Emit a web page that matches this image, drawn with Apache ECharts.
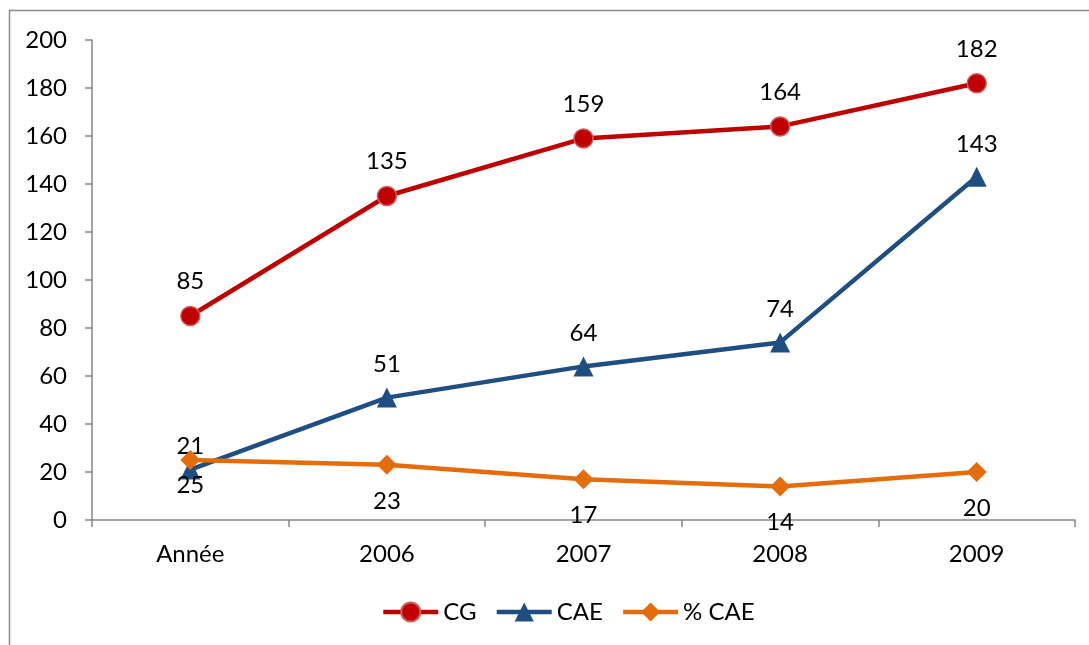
<!DOCTYPE html>
<html>
<head>
<meta charset="utf-8">
<script src="https://cdn.jsdelivr.net/npm/echarts@6/dist/echarts.min.js"></script>
<style>
html,body{margin:0;padding:0;background:#fff;}
#chart{width:1089px;height:645px;}
</style>
</head>
<body>
<div id="chart"></div>
<script>
const categories = ['Année', '2006', '2007', '2008', '2009'];
const cgValues = [85, 135, 159, 164, 182];
const caeValues = [21, 51, 64, 74, 143];
const pctCaeValues = [25, 23, 17, 14, 20];
const yTicks = [0, 20, 40, 60, 80, 100, 120, 140, 160, 180, 200];

const FONT = 'Lato, "Open Sans", sans-serif';
const FS = 24;

const chart = echarts.init(document.getElementById('chart'));

function withLabelOffsets(values, offsets) {
  return values.map((v, i) => offsets && offsets[i] != null
    ? { value: v, label: { distance: offsets[i] } }
    : v);
}

chart.setOption({
  animation: false,
  backgroundColor: '#ffffff',
  textStyle: { fontFamily: FONT },
  graphic: [{
    type: 'rect',
    shape: { x: 9.5, y: 10.5, width: 1200, height: 800 },
    style: { fill: 'none', stroke: '#8c8c8c', lineWidth: 1.5 },
    silent: true
  }],
  grid: { left: 92, right: 14, top: 40, bottom: 125, containLabel: false },
  legend: {
    bottom: 16,
    left: 376,
    itemWidth: 55,
    itemHeight: 24,
    itemGap: 18,
    lineStyle: { width: 4.5 },
    textStyle: { fontFamily: FONT, fontSize: FS, color: '#000' },
    data: ['CG', 'CAE', '% CAE']
  },
  xAxis: {
    type: 'category',
    data: categories,
    boundaryGap: true,
    axisLine: { lineStyle: { color: '#868686', width: 1.5 } },
    axisTick: { show: true, length: 7, lineStyle: { color: '#868686', width: 1.5 } },
    axisLabel: { fontFamily: FONT, fontSize: FS, color: '#000', margin: 22 },
    splitLine: { show: false }
  },
  yAxis: {
    type: 'value',
    min: yTicks[0],
    max: yTicks[yTicks.length - 1],
    interval: yTicks[1] - yTicks[0],
    axisLine: { show: true, lineStyle: { color: '#868686', width: 1.5 } },
    axisTick: { show: true, length: 7, lineStyle: { color: '#868686', width: 1.5 } },
    axisLabel: { fontFamily: FONT, fontSize: FS, color: '#000', margin: 25 },
    splitLine: { show: false }
  },
  series: [
    {
      name: 'CG',
      type: 'line',
      data: cgValues,
      symbol: 'circle',
      symbolSize: 19,
      lineStyle: { color: '#C00000', width: 4.5 },
      itemStyle: { color: '#C00000', borderColor: '#d25a5a', borderWidth: 1.5 },
      label: { show: true, position: 'top', distance: 12, fontFamily: FONT, fontSize: FS, color: '#000' },
      z: 3
    },
    {
      name: 'CAE',
      type: 'line',
      data: withLabelOffsets(caeValues, [1, null, null, null, null]),
      symbol: 'triangle',
      symbolSize: [20, 20],
      lineStyle: { color: '#1F4E82', width: 4.5 },
      itemStyle: { color: '#1F4E82' },
      label: { show: true, position: 'top', distance: 11, fontFamily: FONT, fontSize: FS, color: '#000' },
      z: 2
    },
    {
      name: '% CAE',
      type: 'line',
      data: withLabelOffsets(pctCaeValues, [3, null, null, null, null]),
      symbol: 'diamond',
      symbolSize: [20, 20],
      lineStyle: { color: '#E46C0A', width: 4.5 },
      itemStyle: { color: '#E46C0A' },
      label: { show: true, position: 'bottom', distance: 14, fontFamily: FONT, fontSize: FS, color: '#000' },
      z: 4
    }
  ]
});
</script>
</body>
</html>
